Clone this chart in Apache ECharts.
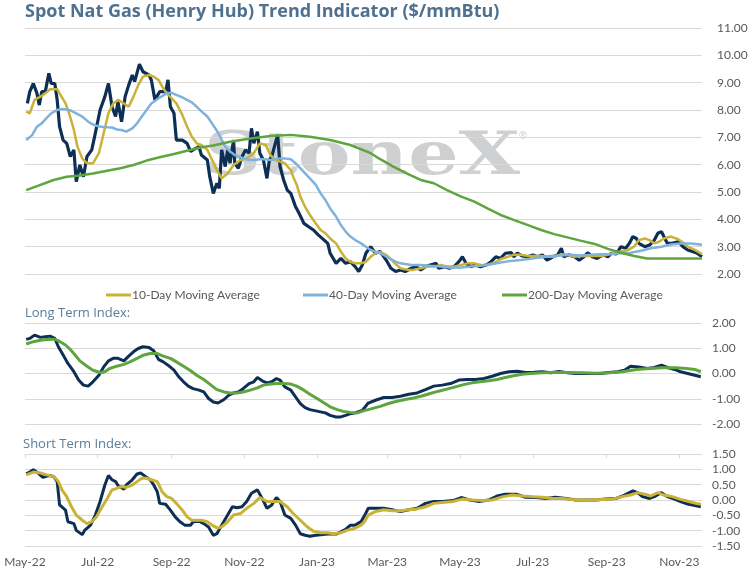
<!DOCTYPE html>
<html>
<head>
<meta charset="utf-8">
<title>Spot Nat Gas (Henry Hub) Trend Indicator</title>
<script src="https://cdn.jsdelivr.net/npm/echarts@6/dist/echarts.min.js"></script>
<style>
    html, body { margin: 0; padding: 0; background: #fff; }
    #main { width: 755px; height: 573px; }
</style>
</head>
<body>
<div id="main"></div>
<script>
// x axis: one category per calendar day from 2022-05-01, points are [dayIndex, value]
var dayCount = 569;
var xTicks = ['2022-05-01', '2022-07-01', '2022-09-01', '2022-11-01', '2023-01-01',
              '2023-03-01', '2023-05-01', '2023-07-01', '2023-09-01', '2023-11-01'];
var tickLabels = ['May-22', 'Jul-22', 'Sep-22', 'Nov-22', 'Jan-23',
                  'Mar-23', 'May-23', 'Jul-23', 'Sep-23', 'Nov-23'];

var spotPrice = [[2,8.24],[4,8.67],[7,8.97],[10,8.61],[12,8.18],[14,8.67],[17,8.67],[20,9.34],[22,8.97],[25,8.97],
    [27,8.37],[29,7.39],[32,6.9],[35,6.78],[38,6.3],[41,6.54],[43,5.38],[46,5.99],[49,5.56],[52,6.3],[56,6.54],
    [59,7.15],[63,8.0],[67,8.49],[70,8.97],[73,8.12],[76,7.76],[78,8.3],[81,7.57],[84,8.49],[87,8.91],[90,9.28],
    [92,9.04],[96,9.68],[99,9.4],[104,9.28],[106,9.1],[109,8.37],[113,8.67],[118,8.67],[120,9.1],[122,8.12],
    [125,7.88],[127,6.9],[132,6.9],[136,6.78],[139,6.48],[141,6.54],[146,6.66],[148,6.35],[153,6.17],[155,5.56],
    [158,4.95],[161,5.32],[163,5.13],[165,6.54],[168,5.93],[170,6.54],[172,6.05],[175,6.9],[176,6.05],[179,5.87],
    [182,6.29],[185,6.54],[188,6.42],[190,7.33],[192,6.78],[195,7.21],[197,6.42],[200,6.17],[203,5.5],[205,6.17],
    [207,6.29],[210,6.78],[212,7.09],[214,5.93],[217,5.44],[220,5.07],[223,4.95],[227,4.46],[230,4.22],[234,3.85],
    [238,3.73],[242,3.61],[246,3.43],[251,3.24],[254,3.12],[256,2.76],[261,2.39],[265,2.57],[269,2.39],[273,2.45],
    [277,2.27],[280,2.09],[283,2.33],[286,2.76],[290,3.0],[294,2.76],[298,2.82],[303,2.51],[307,2.21],[311,2.09],
    [315,2.15],[319,2.09],[324,2.21],[328,2.27],[332,2.15],[336,2.27],[340,2.33],[345,2.39],[347,2.21],[352,2.27],
    [356,2.21],[360,2.27],[364,2.45],[367,2.63],[370,2.39],[374,2.27],[378,2.33],[382,2.27],[387,2.33],[391,2.45],
    [395,2.63],[399,2.57],[403,2.76],[408,2.78],[410,2.63],[413,2.76],[417,2.66],[422,2.63],[426,2.7],[430,2.63],
    [434,2.7],[438,2.51],[443,2.63],[447,2.7],[450,2.94],[452,2.63],[456,2.7],[461,2.63],[465,2.51],[469,2.63],
    [472,2.78],[476,2.63],[480,2.57],[485,2.7],[489,2.63],[492,2.76],[496,2.73],[500,3.0],[504,2.94],[507,3.12],
    [510,3.37],[513,3.3],[515,3.12],[520,3.0],[524,3.06],[528,3.24],[531,3.49],[534,3.55],[536,3.37],[539,3.12],
    [543,3.12],[548,3.18],[552,3.0],[556,2.88],[560,2.82],[564,2.76],[568,2.63]];

var ma10 = [[1,7.94],[4,7.88],[8,8.37],[13,8.49],[17,8.61],[21,8.76],[27,8.76],[29,8.61],[34,8.24],[37,7.88],
    [41,7.27],[44,6.66],[48,6.23],[52,6.05],[57,6.05],[62,6.42],[66,7.15],[70,7.88],[74,8.24],[78,8.37],[83,8.24],
    [87,8.12],[91,8.49],[95,8.91],[99,9.22],[104,9.28],[108,9.22],[112,9.1],[116,8.79],[119,8.61],[123,8.43],
    [127,8.24],[132,7.82],[136,7.39],[140,7.02],[144,6.78],[148,6.72],[153,6.54],[157,6.17],[161,5.8],[165,5.5],
    [170,5.68],[175,5.99],[181,6.17],[186,6.23],[192,6.42],[197,6.78],[202,6.72],[206,6.35],[210,6.17],[214,6.11],
    [218,6.05],[223,5.8],[225,5.56],[228,5.26],[231,4.83],[235,4.46],[239,4.16],[244,3.85],[248,3.61],[252,3.49],
    [256,3.3],[261,3.12],[265,2.82],[269,2.57],[273,2.45],[277,2.39],[282,2.39],[286,2.45],[290,2.63],[294,2.76],
    [298,2.8],[303,2.7],[307,2.55],[310,2.4],[315,2.21],[321,2.15],[326,2.15],[332,2.21],[338,2.27],[343,2.27],
    [349,2.33],[354,2.27],[360,2.27],[366,2.33],[371,2.39],[377,2.39],[382,2.33],[388,2.33],[394,2.42],[399,2.54],
    [405,2.63],[410,2.7],[416,2.7],[422,2.66],[427,2.66],[433,2.66],[438,2.63],[444,2.63],[450,2.72],[455,2.7],
    [461,2.63],[466,2.66],[472,2.66],[478,2.66],[483,2.66],[489,2.7],[494,2.78],[500,2.82],[506,2.88],[511,3.0],
    [515,3.24],[520,3.3],[524,3.24],[528,3.12],[532,3.18],[536,3.3],[542,3.37],[548,3.27],[552,3.15],[556,3.0],
    [562,2.88],[568,2.73]];

var ma40 = [[1,6.9],[6,7.08],[10,7.39],[14,7.51],[18,7.7],[22,7.88],[27,8.0],[31,8.04],[35,8.02],[39,7.97],
    [43,7.88],[48,7.76],[52,7.61],[56,7.49],[60,7.42],[64,7.39],[69,7.37],[73,7.36],[77,7.29],[81,7.27],[85,7.21],
    [90,7.33],[94,7.51],[98,7.76],[102,8.0],[106,8.24],[111,8.39],[115,8.51],[119,8.61],[123,8.63],[127,8.55],
    [132,8.46],[136,8.37],[140,8.28],[144,8.12],[148,7.95],[153,7.76],[157,7.5],[161,7.24],[164,7.0],[168,6.66],
    [172,6.48],[176,6.35],[181,6.27],[185,6.2],[189,6.17],[193,6.17],[197,6.2],[202,6.2],[206,6.17],[210,6.2],
    [214,6.23],[218,6.23],[223,6.2],[227,6.05],[231,5.87],[235,5.68],[239,5.5],[244,5.26],[248,4.95],[252,4.71],
    [256,4.4],[261,4.1],[265,3.79],[269,3.55],[273,3.37],[277,3.24],[282,3.12],[286,3.0],[290,2.88],[294,2.82],
    [298,2.76],[303,2.64],[307,2.54],[311,2.45],[315,2.39],[324,2.33],[332,2.33],[340,2.3],[349,2.27],[357,2.23],
    [366,2.24],[374,2.27],[382,2.3],[391,2.36],[399,2.42],[408,2.48],[416,2.51],[424,2.56],[433,2.61],[441,2.66],
    [450,2.68],[458,2.7],[466,2.68],[475,2.7],[483,2.72],[492,2.73],[500,2.76],[508,2.78],[517,2.85],[525,2.94],
    [534,3.0],[542,3.08],[550,3.12],[559,3.12],[568,3.07]];

var ma200 = [[1,5.07],[13,5.26],[24,5.44],[35,5.56],[46,5.6],[57,5.68],[69,5.78],[80,5.87],[91,5.99],[102,6.15],
    [113,6.27],[125,6.39],[136,6.51],[147,6.63],[158,6.7],[172,6.84],[189,6.96],[206,7.05],[223,7.09],[239,7.02],
    [256,6.9],[273,6.72],[290,6.42],[298,6.2],[309,5.93],[321,5.66],[332,5.44],[343,5.32],[354,5.07],[366,4.83],
    [377,4.65],[388,4.4],[399,4.16],[410,3.98],[422,3.79],[433,3.61],[444,3.46],[455,3.34],[466,3.22],[478,3.1],
    [489,2.92],[500,2.78],[511,2.66],[522,2.57],[534,2.57],[545,2.57],[556,2.57],[568,2.57]];

var longIndex = [[1,1.35],[4,1.39],[8,1.52],[13,1.43],[17,1.46],[21,1.48],[25,1.39],[28,1.06],[32,0.73],[36,0.4],
    [41,0.07],[45,-0.26],[49,-0.46],[53,-0.5],[57,-0.33],[62,-0.07],[66,0.26],[70,0.5],[74,0.6],[78,0.6],[83,0.5],
    [87,0.69],[91,0.86],[95,0.99],[99,1.06],[104,1.03],[108,0.9],[112,0.56],[116,0.46],[120,0.33],[125,0.13],
    [129,-0.13],[133,-0.33],[137,-0.5],[141,-0.6],[146,-0.66],[150,-0.73],[154,-0.99],[158,-1.13],[162,-1.17],
    [167,-1.03],[171,-0.86],[175,-0.77],[179,-0.73],[183,-0.6],[188,-0.4],[192,-0.33],[195,-0.16],[199,-0.29],
    [203,-0.37],[207,-0.33],[211,-0.2],[214,-0.26],[218,-0.53],[223,-0.66],[227,-0.93],[231,-1.19],[235,-1.35],
    [239,-1.43],[244,-1.48],[248,-1.52],[252,-1.56],[256,-1.66],[261,-1.72],[265,-1.72],[269,-1.66],[273,-1.59],
    [277,-1.56],[283,-1.46],[288,-1.17],[294,-1.06],[301,-0.95],[308,-0.95],[315,-0.9],[322,-0.82],[329,-0.77],
    [336,-0.64],[343,-0.5],[350,-0.46],[357,-0.4],[364,-0.26],[371,-0.24],[378,-0.24],[385,-0.2],[392,-0.11],
    [399,0.0],[406,0.07],[413,0.09],[420,0.04],[427,0.05],[434,0.07],[441,0.03],[448,0.08],[455,0.03],[462,0.0],
    [469,0.0],[476,0.0],[483,0.0],[490,0.04],[497,0.07],[503,0.13],[508,0.29],[515,0.26],[522,0.2],[528,0.24],
    [534,0.33],[539,0.24],[545,0.16],[550,0.07],[556,0.0],[562,-0.07],[567,-0.13]];

var longSignal = [[1,1.17],[7,1.26],[13,1.32],[18,1.35],[24,1.36],[28,1.3],[34,1.13],[38,0.95],[42,0.73],[46,0.5],
    [52,0.29],[57,0.13],[63,0.04],[67,0.07],[71,0.2],[77,0.29],[83,0.36],[88,0.46],[94,0.6],[99,0.72],[105,0.79],
    [111,0.79],[116,0.69],[122,0.6],[127,0.46],[133,0.29],[139,0.11],[144,-0.07],[150,-0.24],[155,-0.42],
    [161,-0.64],[167,-0.73],[172,-0.77],[178,-0.77],[183,-0.73],[189,-0.66],[195,-0.57],[200,-0.46],[206,-0.42],
    [211,-0.4],[217,-0.4],[223,-0.42],[228,-0.5],[234,-0.66],[239,-0.82],[245,-0.99],[251,-1.17],[256,-1.32],
    [262,-1.43],[267,-1.5],[273,-1.54],[279,-1.56],[284,-1.48],[291,-1.39],[298,-1.3],[305,-1.19],[312,-1.1],
    [319,-1.03],[326,-0.97],[333,-0.89],[340,-0.79],[347,-0.7],[354,-0.62],[361,-0.53],[368,-0.44],[375,-0.37],
    [382,-0.33],[389,-0.29],[396,-0.24],[403,-0.16],[410,-0.09],[417,-0.03],[424,0.0],[434,0.03],[445,0.04],
    [456,0.04],[468,0.03],[479,0.01],[490,0.03],[501,0.07],[513,0.16],[524,0.2],[535,0.23],[546,0.23],[555,0.2],
    [562,0.16],[567,0.07]];

var shortIndex = [[1,0.85],[4,0.91],[7,0.99],[11,0.88],[15,0.74],[20,0.8],[24,0.77],[27,0.6],[29,-0.16],
    [34,-0.33],[36,-0.71],[41,-0.77],[43,-0.99],[48,-1.13],[50,-0.99],[55,-0.82],[59,-0.49],[63,-0.05],[67,0.49],
    [70,0.8],[73,0.66],[76,0.6],[78,0.47],[83,0.35],[85,0.49],[90,0.66],[94,0.85],[97,0.88],[101,0.77],[105,0.66],
    [108,0.49],[111,0.27],[113,-0.11],[118,-0.14],[122,-0.33],[126,-0.55],[130,-0.71],[134,-0.82],[139,-0.82],
    [141,-0.71],[146,-0.69],[150,-0.77],[154,-0.88],[158,-1.15],[161,-1.1],[165,-0.82],[170,-0.49],[174,-0.22],
    [178,-0.25],[182,-0.22],[186,-0.05],[190,0.22],[195,0.33],[199,0.05],[203,-0.27],[207,-0.16],[211,0.08],
    [214,-0.05],[218,-0.49],[223,-0.6],[227,-0.82],[231,-1.1],[235,-1.15],[239,-1.18],[244,-1.15],[248,-1.13],
    [252,-1.12],[256,-1.1],[261,-1.11],[265,-1.04],[269,-0.96],[273,-0.82],[277,-0.82],[282,-0.7],[285,-0.5],
    [288,-0.27],[294,-0.27],[301,-0.27],[308,-0.32],[315,-0.38],[322,-0.32],[329,-0.27],[336,-0.11],[343,-0.05],
    [350,-0.05],[359,-0.02],[366,0.08],[373,0.0],[381,-0.05],[389,0.0],[396,0.13],[403,0.19],[412,0.19],[420,0.09],
    [429,0.08],[437,0.05],[445,0.09],[454,0.05],[462,0.0],[471,0.0],[479,0.0],[487,0.03],[496,0.05],[503,0.16],
    [510,0.3],[514,0.24],[518,0.11],[524,0.05],[529,0.13],[534,0.24],[539,0.11],[545,0.03],[550,-0.05],
    [556,-0.13],[562,-0.18],[567,-0.22]];

var shortSignal = [[1,0.82],[7,0.91],[13,0.88],[18,0.82],[24,0.77],[28,0.6],[31,0.33],[35,0.11],[39,-0.22],
    [43,-0.49],[48,-0.66],[52,-0.77],[56,-0.71],[60,-0.55],[64,-0.27],[69,0.05],[73,0.33],[77,0.38],[81,0.44],
    [85,0.41],[90,0.49],[94,0.6],[98,0.71],[102,0.71],[106,0.66],[111,0.6],[115,0.27],[119,0.11],[123,0.05],
    [127,-0.11],[132,-0.33],[136,-0.55],[140,-0.66],[144,-0.66],[148,-0.66],[153,-0.71],[157,-0.82],[161,-0.91],
    [165,-0.88],[170,-0.71],[175,-0.49],[181,-0.44],[186,-0.27],[192,-0.11],[197,0.08],[203,-0.05],[209,-0.05],
    [214,-0.05],[220,-0.22],[225,-0.44],[231,-0.66],[237,-0.88],[242,-1.02],[248,-1.07],[254,-1.07],[259,-1.1],
    [265,-1.07],[270,-0.99],[276,-0.93],[282,-0.82],[285,-0.7],[288,-0.49],[294,-0.38],[301,-0.32],[308,-0.35],
    [315,-0.35],[322,-0.32],[329,-0.29],[336,-0.22],[343,-0.11],[350,-0.08],[359,-0.05],[367,0.03],[375,0.0],
    [384,-0.02],[392,0.0],[401,0.11],[409,0.16],[417,0.13],[426,0.11],[434,0.09],[443,0.05],[451,0.05],[459,0.02],
    [468,0.0],[476,0.0],[485,0.02],[493,0.03],[501,0.11],[508,0.16],[514,0.24],[520,0.19],[525,0.13],[531,0.24],
    [536,0.16],[543,0.11],[550,0.02],[557,-0.05],[563,-0.11],[567,-0.14]];

var categories = [];
var t0 = Date.UTC(2022, 4, 1);
for (var i = 0; i < dayCount; i++) {
    categories.push(new Date(t0 + i * 86400000).toISOString().slice(0, 10));
}

var NAVY = '#0e2f55', GOLD = '#c9b236', LIGHT_BLUE = '#7fb2dc', GREEN = '#5fa53f';
var FONT = 'Lato';
var gridColor = '#d9d9d9';

function isTick(idx, val) { return xTicks.indexOf(val) >= 0; }

function xAxisFor(grid, showLabels) {
    return {
        type: 'category', gridIndex: grid, data: categories, boundaryGap: false,
        axisLine: { show: false }, axisTick: { show: false },
        axisLabel: {
            show: showLabels, interval: isTick, color: '#595959', fontSize: 12, fontFamily: FONT, margin: 10,
            formatter: function (v) { return tickLabels[xTicks.indexOf(v)]; }
        },
        splitLine: { show: false }
    };
}

function yAxisFor(grid, min, max, step, margin, size) {
    return {
        type: 'value', gridIndex: grid, position: 'right', min: min, max: max, interval: step,
        axisLine: { show: false }, axisTick: { show: false },
        splitLine: { lineStyle: { color: gridColor, width: 1 } },
        axisLabel: {
            color: '#595959', fontSize: size, fontFamily: FONT, margin: margin,
            formatter: function (v) { return v.toFixed(2); }
        }
    };
}

function line(name, x, y, data, color, width, z) {
    return {
        name: name, type: 'line', xAxisIndex: x, yAxisIndex: y, data: data,
        showSymbol: false, symbol: 'none', z: z,
        lineStyle: { color: color, width: width }, itemStyle: { color: color }
    };
}

function legendAt(name, left) {
    return {
        data: [name], left: left, top: 284, icon: 'rect', itemWidth: 25, itemHeight: 3, selectedMode: false,
        textStyle: { color: '#595959', fontSize: 12, fontFamily: FONT, padding: [0, 0, 0, -4] }
    };
}

var myChart = echarts.init(document.getElementById('main'));
var option = {
    animation: false,
    backgroundColor: '#ffffff',
    title: [
        { text: 'Spot Nat Gas (Henry Hub) Trend Indicator ($/mmBtu)', left: 25, top: 3, padding: 0,
          textStyle: { color: '#4e7191', fontSize: 18, fontWeight: 'bold', fontFamily: 'Open Sans' } },
        { text: 'Long Term Index:', left: 25, top: 307, padding: 0,
          textStyle: { color: '#5b7d98', fontSize: 13, fontWeight: 'normal', fontFamily: 'Open Sans' } },
        { text: 'Short Term Index:', left: 23, top: 438, padding: 0,
          textStyle: { color: '#5b7d98', fontSize: 13, fontWeight: 'normal', fontFamily: 'Open Sans' } }
    ],
    graphic: [
        { type: 'text', left: 204, top: 128, z: 0, scaleX: 1.32, silent: true,
          style: { text: 'StoneX', font: 'bold 60px "DejaVu Serif"', fill: '#cfd0d1' } },
        { type: 'text', left: 518, top: 131, z: 0, silent: true,
          style: { text: '\u00AE', font: '10px "DejaVu Sans"', fill: '#cfd0d1' } }
    ],
    legend: [
        legendAt('10-Day Moving Average', 101),
        legendAt('40-Day Moving Average', 298),
        legendAt('200-Day Moving Average', 497)
    ],
    grid: [
        { left: 25, right: 53, top: 28, height: 246 },
        { left: 25, right: 53, top: 323, height: 101 },
        { left: 25, right: 53, top: 454, height: 92 }
    ],
    xAxis: [
        xAxisFor(0, false),
        xAxisFor(1, false),
        xAxisFor(2, true),
        {
            type: 'category', gridIndex: 2, data: categories, boundaryGap: false, position: 'top',
            axisLine: { show: true, lineStyle: { color: gridColor } },
            axisTick: { show: true, inside: true, length: 4, interval: isTick, lineStyle: { color: gridColor } },
            axisLabel: { show: false }, splitLine: { show: false }
        }
    ],
    yAxis: [
        yAxisFor(0, 2, 11, 1, 15, 12),
        yAxisFor(1, -2, 2, 1, 10, 12),
        yAxisFor(2, -1.5, 1.5, 0.5, 10, 12)
    ],
    series: [
        line('Spot Price', 0, 0, spotPrice, NAVY, 3.2, 2),
        line('10-Day Moving Average', 0, 0, ma10, GOLD, 2.5, 3),
        line('40-Day Moving Average', 0, 0, ma40, LIGHT_BLUE, 2.5, 3),
        line('200-Day Moving Average', 0, 0, ma200, GREEN, 2.5, 3),
        line('Long Term Index', 1, 1, longIndex, NAVY, 3, 2),
        line('Long Term Signal', 1, 1, longSignal, GREEN, 3, 3),
        line('Short Term Index', 2, 2, shortIndex, NAVY, 3, 2),
        line('Short Term Signal', 2, 2, shortSignal, GOLD, 3, 3)
    ]
};
myChart.setOption(option);
</script>
</body>
</html>
